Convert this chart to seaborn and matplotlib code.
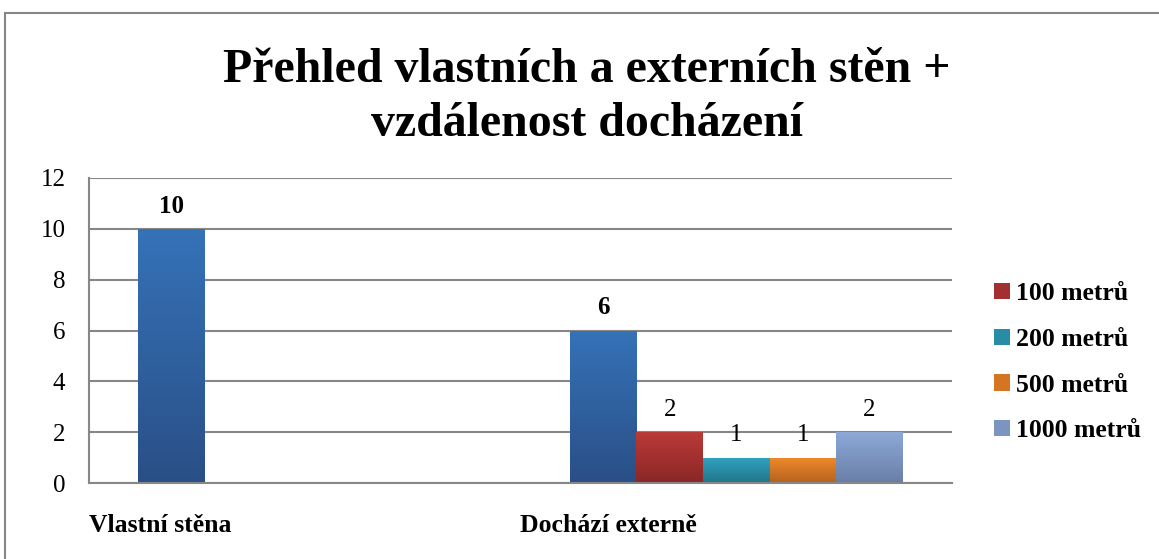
import numpy as np
import pandas as pd
import matplotlib
matplotlib.use("Agg")
import matplotlib.pyplot as plt
import seaborn as sns
from matplotlib.patches import Patch, Rectangle
from matplotlib.colors import to_rgb

# ---- data ----
categories = ["Vlastní stěna", "Dochází externě"]
series_names = ["Celkem", "100 metrů", "200 metrů", "500 metrů", "1000 metrů"]
celkem = [10, 6]
m100 = [np.nan, 2]
m200 = [np.nan, 1]
m500 = [np.nan, 1]
m1000 = [np.nan, 2]
y_ticks = [0, 2, 4, 6, 8, 10, 12]
title = "Přehled vlastních a externích stěn +\nvzdálenost docházení"

# ---- styling ----
top_colors = ["#3572B8", "#BA3A37", "#30A3C2", "#F08A2A", "#8CA9D8"]
bot_colors = ["#2A4F86", "#8A2727", "#217589", "#B5621F", "#6A7FA6"]
mid_colors = ["#2F60A0", "#A33030", "#288CA6", "#D47524", "#7B94C0"]

sns.set_theme(style="white")
plt.rcParams["font.family"] = ["Liberation Serif", "DejaVu Serif"]
plt.rcParams["text.color"] = "black"

rows = []
for name, vals in zip(series_names, [celkem, m100, m200, m500, m1000]):
    for c, v in zip(categories, vals):
        rows.append({"kategorie": c, "serie": name, "hodnota": v})
df = pd.DataFrame(rows)

fig = plt.figure(figsize=(11.59, 5.59), dpi=100)
ax = fig.add_axes([89 / 1159, 1 - 483 / 559, (952 - 89) / 1159, (483 - 178) / 559])

sns.barplot(data=df, x="kategorie", y="hodnota", hue="serie",
            order=categories, hue_order=series_names,
            palette=mid_colors, width=0.772, gap=0, ax=ax,
            legend=False, linewidth=0, saturation=1, errorbar=None)

# gradient fills
for i, cont in enumerate(ax.containers):
    grad = np.linspace(0, 1, 64)[:, None]
    c0 = np.array(to_rgb(bot_colors[i]))
    c1 = np.array(to_rgb(top_colors[i]))
    img = (c0[None, None, :] * (1 - grad[:, :, None]) + c1[None, None, :] * grad[:, :, None])
    for p in cont.patches:
        h = p.get_height()
        if not np.isfinite(h) or h <= 0:
            continue
        x0 = p.get_x(); w = p.get_width()
        im = ax.imshow(img, extent=(x0, x0 + w, 0, h), origin="lower",
                       aspect="auto", zorder=p.get_zorder() + 0.1, interpolation="bilinear")
        im.set_clip_path(p)

ax.set_ylim(0, 12)
ax.set_xlim(-0.5, 1.5)

# data labels
for i, cont in enumerate(ax.containers):
    labels = []
    for p in cont.patches:
        h = p.get_height()
        labels.append(f"{int(h)}" if np.isfinite(h) and h > 0 else "")
    ax.bar_label(cont, labels=labels, padding=8, fontsize=18,
                 fontweight="bold" if i == 0 else "normal", color="black")

# axes styling
ax.set_yticks(y_ticks)
ax.tick_params(axis="y", labelsize=18, pad=17, length=0, colors="black")
ax.yaxis.grid(True, color="#878787", linewidth=1.5)
ax.set_axisbelow(True)
ax.set_xticks([i - 0.5 for i in range(len(categories))])
ax.set_xticklabels(categories, ha="left", fontsize=18.5, fontweight="bold")
ax.tick_params(axis="x", pad=22, length=0, colors="black")
ax.set_xlabel("")
ax.set_ylabel("")
for s in ["top", "right"]:
    ax.spines[s].set_visible(False)
for s in ["left", "bottom"]:
    ax.spines[s].set_color("#878787")
    ax.spines[s].set_linewidth(1.5)

# legend (without the first series)
handles = [Patch(facecolor=mid_colors[i], edgecolor="none") for i in range(1, 5)]
fig.legend(handles, series_names[1:], loc="center left",
           bbox_to_anchor=(0.838, 0.352), frameon=False,
           prop={"size": 18.5, "weight": "bold"},
           handlelength=0.6, handleheight=0.6, handletextpad=0.25,
           labelspacing=0.88)

# title
fig.text(0.5065, 1 - 97 / 559, title, ha="center", va="center",
         fontsize=34.5, fontweight="bold", linespacing=1.3, color="black")

# outer chart frame
fig.patches.append(Rectangle((5 / 1159, -0.05), 1.2, 1 - 13 / 559 + 0.05,
                             transform=fig.transFigure, fill=False,
                             edgecolor="#878787", linewidth=1.5))

fig.savefig("out.png", dpi=100)
